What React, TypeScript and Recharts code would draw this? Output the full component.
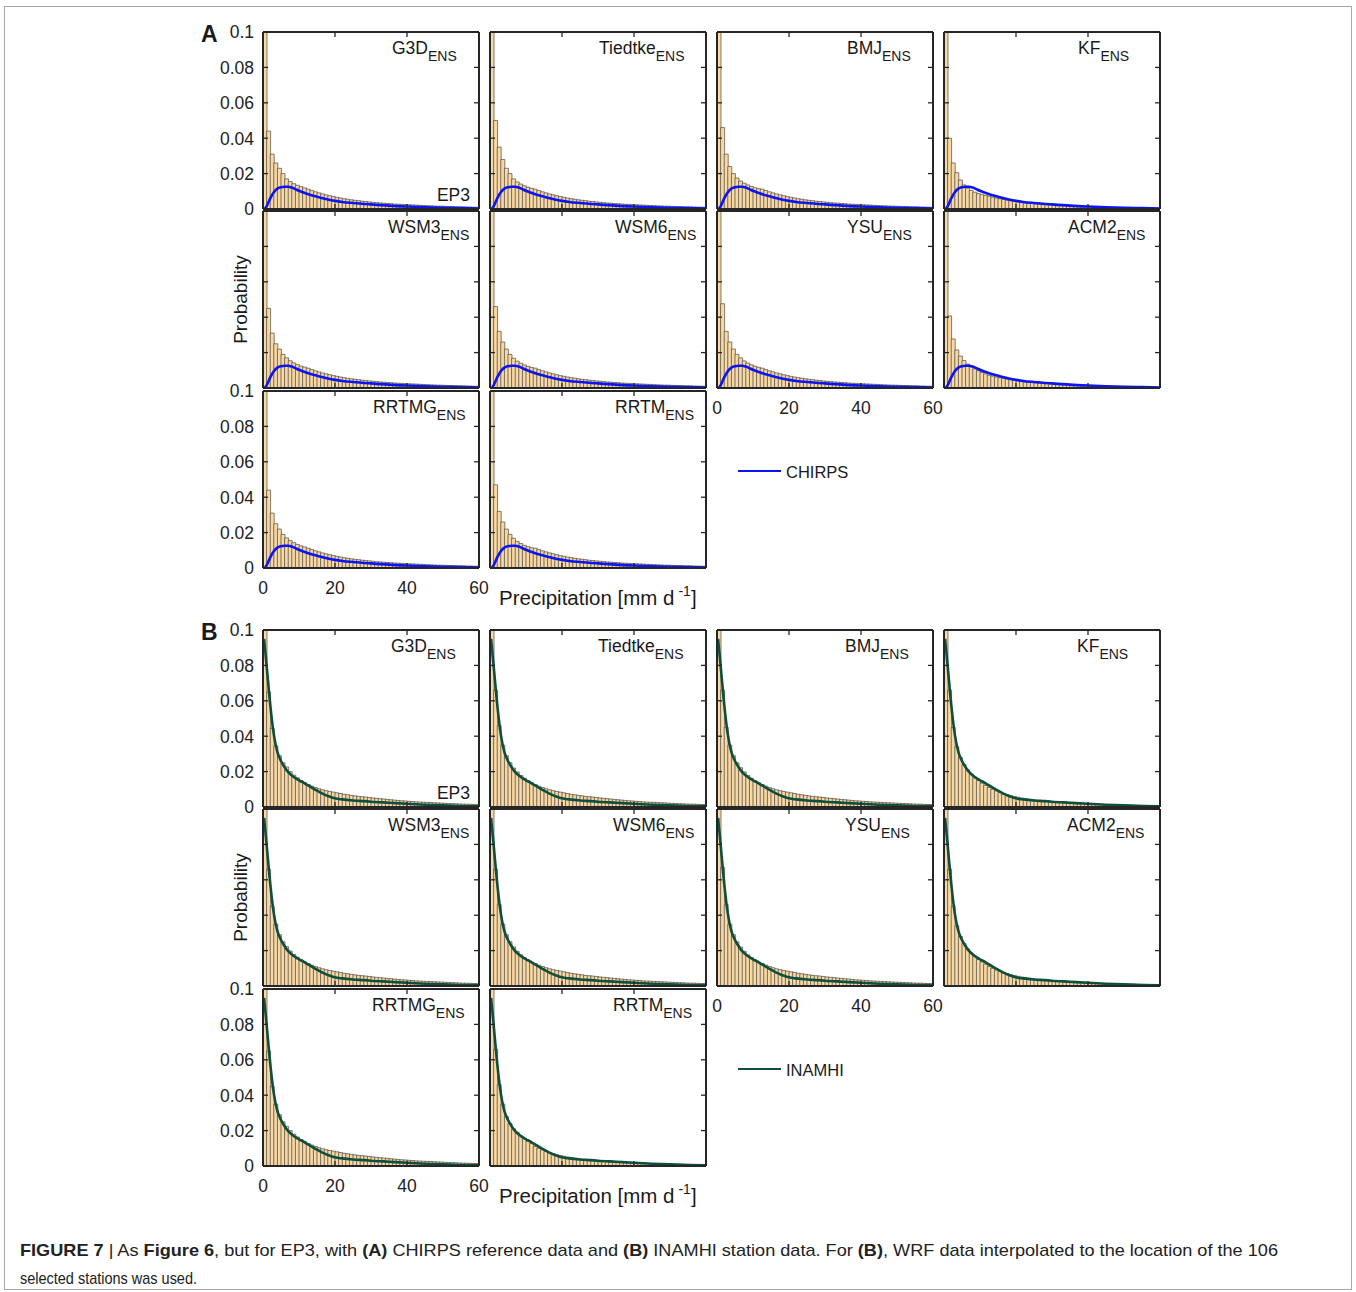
import React from 'react';
import { ComposedChart, Bar, Line, XAxis, YAxis } from 'recharts';

// ---------- data ----------
const BIN_LEFT_EDGES = [
  0, 1, 2, 3, 4, 5, 6, 7, 8, 9, 10, 11, 12, 13, 14, 15, 16, 17, 18, 19,
  20, 21, 22, 23, 24, 25, 26, 27, 28, 29, 30, 31, 32, 33, 34, 35, 36, 37, 38, 39,
  40, 41, 42, 43, 44, 45, 46, 47, 48, 49, 50, 51, 52, 53, 54, 55, 56, 57, 58, 59,
];
const X_TICKS = [0, 20, 40, 60];
const Y_TICKS = [0, 0.02, 0.04, 0.06, 0.08, 0.1];
const MODEL_NAMES = ['G3D', 'Tiedtke', 'BMJ', 'KF', 'WSM3', 'WSM6', 'YSU', 'ACM2', 'RRTMG', 'RRTM'];

// bins 12..59, shared tails
const A_TAIL = [
  0.0112, 0.0104, 0.0097, 0.0091, 0.0085, 0.0080, 0.0075, 0.0070, 0.0066, 0.0062,
  0.0058, 0.0055, 0.0052, 0.0049, 0.0047, 0.0044, 0.0042, 0.0040, 0.0038, 0.0036,
  0.0034, 0.0033, 0.0031, 0.0030, 0.0028, 0.0027, 0.0026, 0.0025, 0.0024, 0.0023,
  0.0022, 0.0021, 0.0020, 0.0019, 0.0018, 0.0017, 0.0016, 0.0016, 0.0015, 0.0014,
  0.0014, 0.0013, 0.0012, 0.0012, 0.0011, 0.0011, 0.0010, 0.0010,
];
const A_TAIL_LOW = [
  0.0072, 0.0067, 0.0062, 0.0058, 0.0054, 0.0050, 0.0047, 0.0044, 0.0041, 0.0038,
  0.0036, 0.0034, 0.0032, 0.0030, 0.0028, 0.0026, 0.0025, 0.0023, 0.0022, 0.0021,
  0.0020, 0.0019, 0.0018, 0.0017, 0.0016, 0.0015, 0.0014, 0.0013, 0.0013, 0.0012,
  0.0011, 0.0011, 0.0010, 0.0010, 0.0009, 0.0009, 0.0008, 0.0008, 0.0007, 0.0007,
  0.0007, 0.0006, 0.0006, 0.0006, 0.0005, 0.0005, 0.0005, 0.0004,
];
const B_TAIL = [
  0.0127, 0.0118, 0.0110, 0.0103, 0.0097, 0.0092, 0.0088, 0.0084, 0.0080, 0.0076,
  0.0072, 0.0069, 0.0066, 0.0063, 0.0060, 0.0058, 0.0056, 0.0054, 0.0051, 0.0049,
  0.0047, 0.0045, 0.0043, 0.0041, 0.0039, 0.0037, 0.0035, 0.0034, 0.0032, 0.0031,
  0.0029, 0.0028, 0.0027, 0.0026, 0.0025, 0.0024, 0.0023, 0.0022, 0.0021, 0.0020,
  0.0019, 0.0018, 0.0017, 0.0016, 0.0016, 0.0015, 0.0014, 0.0014,
];
const B_TAIL_LOW = [
  0.0110, 0.0100, 0.0091, 0.0083, 0.0076, 0.0070, 0.0064, 0.0059, 0.0055, 0.0051,
  0.0047, 0.0044, 0.0041, 0.0038, 0.0036, 0.0034, 0.0032, 0.0030, 0.0028, 0.0027,
  0.0025, 0.0024, 0.0023, 0.0022, 0.0021, 0.0020, 0.0019, 0.0018, 0.0017, 0.0016,
  0.0015, 0.0015, 0.0014, 0.0013, 0.0013, 0.0012, 0.0012, 0.0011, 0.0011, 0.0010,
  0.0010, 0.0009, 0.0009, 0.0009, 0.0008, 0.0008, 0.0008, 0.0007,
];

// bins 0..11 per panel (A: vs CHIRPS)
const A_HEAD_G3D = [0.26, 0.044, 0.031, 0.026, 0.023, 0.020, 0.017, 0.0155, 0.0143, 0.0134, 0.0126, 0.0119];
const A_HEAD_TIEDTKE = [0.24, 0.050, 0.035, 0.028, 0.023, 0.020, 0.017, 0.0153, 0.0141, 0.0131, 0.0123, 0.0117];
const A_HEAD_BMJ = [0.25, 0.046, 0.031, 0.024, 0.020, 0.0175, 0.0158, 0.0146, 0.0136, 0.0127, 0.0120, 0.0115];
const A_HEAD_KF = [0.28, 0.040, 0.026, 0.0205, 0.0164, 0.0136, 0.0118, 0.0105, 0.0095, 0.0087, 0.0081, 0.0076];
const A_HEAD_WSM3 = [0.26, 0.045, 0.031, 0.025, 0.022, 0.019, 0.017, 0.0154, 0.0142, 0.0132, 0.0124, 0.0118];
const A_HEAD_WSM6 = [0.25, 0.046, 0.032, 0.026, 0.022, 0.019, 0.0168, 0.0152, 0.014, 0.013, 0.0122, 0.0116];
const A_HEAD_YSU = [0.24, 0.0476, 0.032, 0.026, 0.022, 0.019, 0.017, 0.0153, 0.0141, 0.0131, 0.0123, 0.0117];
const A_HEAD_ACM2 = [0.27, 0.0407, 0.0277, 0.0215, 0.018, 0.0155, 0.0135, 0.012, 0.0108, 0.0097, 0.0088, 0.0080];
const A_HEAD_RRTMG = [0.26, 0.044, 0.031, 0.025, 0.022, 0.019, 0.017, 0.0155, 0.0143, 0.0133, 0.0125, 0.0119];
const A_HEAD_RRTM = [0.25, 0.047, 0.032, 0.026, 0.022, 0.019, 0.0168, 0.015, 0.0138, 0.0128, 0.012, 0.0114];

// bins 0..11 per panel (B: vs INAMHI)
const B_HEAD_G3D = [0.14, 0.065, 0.0445, 0.0345, 0.029, 0.025, 0.0226, 0.020, 0.018, 0.0165, 0.015, 0.0138];
const B_HEAD_TIEDTKE = [0.13, 0.066, 0.046, 0.035, 0.029, 0.025, 0.022, 0.0198, 0.0178, 0.0162, 0.0148, 0.0137];
const B_HEAD_BMJ = [0.13, 0.066, 0.045, 0.035, 0.029, 0.025, 0.0222, 0.0198, 0.0178, 0.0162, 0.0148, 0.0137];
const B_HEAD_KF = [0.12, 0.066, 0.045, 0.034, 0.028, 0.024, 0.021, 0.0185, 0.0165, 0.015, 0.0135, 0.0122];
const B_HEAD_WSM3 = [0.14, 0.066, 0.045, 0.035, 0.029, 0.025, 0.0222, 0.0198, 0.0178, 0.0162, 0.0148, 0.0137];
const B_HEAD_WSM6 = [0.13, 0.066, 0.046, 0.035, 0.029, 0.025, 0.022, 0.0196, 0.0176, 0.016, 0.0146, 0.0135];
const B_HEAD_YSU = [0.13, 0.067, 0.046, 0.035, 0.029, 0.025, 0.022, 0.0196, 0.0176, 0.016, 0.0146, 0.0135];
const B_HEAD_ACM2 = [0.12, 0.066, 0.045, 0.034, 0.028, 0.024, 0.021, 0.0186, 0.0166, 0.015, 0.0136, 0.0123];
const B_HEAD_RRTMG = [0.14, 0.065, 0.045, 0.035, 0.029, 0.025, 0.0224, 0.020, 0.018, 0.0164, 0.015, 0.0138];
const B_HEAD_RRTM = [0.13, 0.066, 0.046, 0.035, 0.028, 0.024, 0.021, 0.019, 0.017, 0.0155, 0.014, 0.0128];

const A_HISTS = [
  A_HEAD_G3D.concat(A_TAIL), A_HEAD_TIEDTKE.concat(A_TAIL), A_HEAD_BMJ.concat(A_TAIL), A_HEAD_KF.concat(A_TAIL_LOW),
  A_HEAD_WSM3.concat(A_TAIL), A_HEAD_WSM6.concat(A_TAIL), A_HEAD_YSU.concat(A_TAIL), A_HEAD_ACM2.concat(A_TAIL_LOW),
  A_HEAD_RRTMG.concat(A_TAIL), A_HEAD_RRTM.concat(A_TAIL),
];
const B_HISTS = [
  B_HEAD_G3D.concat(B_TAIL), B_HEAD_TIEDTKE.concat(B_TAIL), B_HEAD_BMJ.concat(B_TAIL), B_HEAD_KF.concat(B_TAIL_LOW),
  B_HEAD_WSM3.concat(B_TAIL), B_HEAD_WSM6.concat(B_TAIL), B_HEAD_YSU.concat(B_TAIL), B_HEAD_ACM2.concat(B_TAIL_LOW),
  B_HEAD_RRTMG.concat(B_TAIL), B_HEAD_RRTM.concat(B_TAIL_LOW),
];

const CHIRPS_X = [0.5, 1, 2, 3, 4, 5, 6, 7, 8, 9, 10, 12, 14, 16, 18, 20, 22, 25, 30, 35, 40, 45, 50, 55, 60];
const CHIRPS_Y = [0, 0.0015, 0.006, 0.0095, 0.0115, 0.0123, 0.0126, 0.0126, 0.0121, 0.0112, 0.0103, 0.0088, 0.0075, 0.0064, 0.0054, 0.0046, 0.0040, 0.0034, 0.0026, 0.0019, 0.0014, 0.0010, 0.0007, 0.0005, 0.0003];
const INAMHI_X = [0.3, 1, 2, 3, 4, 5, 6, 7, 8, 9, 10, 11, 12, 13, 14, 15, 16, 17, 18, 19, 20, 22, 25, 28, 30, 35, 40, 45, 50, 55, 60];
const INAMHI_Y = [0.095, 0.080, 0.058, 0.041, 0.031, 0.026, 0.0225, 0.0197, 0.0178, 0.0163, 0.0151, 0.0140, 0.0128, 0.0116, 0.0104, 0.0092, 0.0081, 0.0071, 0.0062, 0.0055, 0.0049, 0.0043, 0.0037, 0.0033, 0.0030, 0.0024, 0.0018, 0.0013, 0.0009, 0.0006, 0.0004];

const CHIRPS_CURVE = CHIRPS_X.map((x, i) => ({ x, y: CHIRPS_Y[i] }));
const INAMHI_CURVE = INAMHI_X.map((x, i) => ({ x, y: INAMHI_Y[i] }));

// ---------- layout / style ----------
const FONT = '"Liberation Sans", Arial, Helvetica, sans-serif';
const AXC = '#262626';
const BAR_FILL = '#F8D8A4';
const BAR_STROKE = '#4f4a44';
const BLUE = '#0a14f5';
const GREEN = '#0d4f3c';

const PW = 216;
const PH = 177;
const ML = 60;
const MR = 16;
const MT = 14;
const MB = 45;
const COL_X = [263, 490, 717, 944];
const A_ROW_Y = [32, 211, 391];
const B_ROW_Y = [630, 809, 989];
const A_LABEL_X = [392, 599, 847, 1078, 388, 615, 847, 1068, 373, 615];
const B_LABEL_X = [391, 598, 845, 1077, 388, 613, 845, 1067, 372, 613];

const fmtY = (v: number) => (v === 0 ? '0' : String(v));

const leftTick = (show: boolean) => (props: any) => {
  const { x, y, payload } = props;
  return (
    <g>
      <line x1={x} y1={y} x2={x + 5} y2={y} stroke={AXC} strokeWidth={1.3} />
      {show && (
        <text x={x - 9} y={y} dy="0.36em" textAnchor="end" fontSize={17.5} fill="#222" fontFamily={FONT}>
          {fmtY(payload.value)}
        </text>
      )}
    </g>
  );
};
const rightTick = (props: any) => {
  const { x, y } = props;
  return <line x1={x} y1={y} x2={x - 5} y2={y} stroke={AXC} strokeWidth={1.3} />;
};
const topTick = (props: any) => {
  const { x, y } = props;
  return <line x1={x} y1={y} x2={x} y2={y + 5} stroke={AXC} strokeWidth={1.3} />;
};
const bottomTick = (show: boolean) => (props: any) => {
  const { x, y, payload } = props;
  return (
    <g>
      <line x1={x} y1={y} x2={x} y2={y - 5} stroke={AXC} strokeWidth={1.3} />
      {show && (
        <text x={x} y={y + 26} textAnchor="middle" fontSize={17.5} fill="#222" fontFamily={FONT}>
          {payload.value}
        </text>
      )}
    </g>
  );
};

type PanelProps = {
  left: number;
  top: number;
  hist: number[];
  curve: { x: number; y: number }[];
  color: string;
  xLabels: boolean;
  yLabels: boolean;
};

function Panel({ left, top, hist, curve, color, xLabels, yLabels }: PanelProps) {
  const rows = BIN_LEFT_EDGES.map((b, i) => ({ bin: b, p: hist[i] }));
  const axisLine = { stroke: AXC, strokeWidth: 2 };
  return (
    <div style={{ position: 'absolute', left: left - ML, top: top - MT }}>
      <ComposedChart
        width={PW + ML + MR}
        height={PH + MT + MB}
        data={rows}
        margin={{ top: MT - 1, right: MR - 1, bottom: 0, left: 0 }}
        barCategoryGap={0}
        barGap={0}
      >
        <XAxis xAxisId="cat" dataKey="bin" type="category" hide height={0} />
        <Bar
          xAxisId="cat"
          yAxisId="left"
          dataKey="p"
          fill={BAR_FILL}
          stroke={BAR_STROKE}
          strokeWidth={0.7}
          isAnimationActive={false}
        />
        <Line
          xAxisId="top"
          yAxisId="right"
          data={curve}
          dataKey="y"
          stroke="none"
          dot={false}
          activeDot={false}
          isAnimationActive={false}
        />
        <Line
          xAxisId="num"
          yAxisId="left"
          data={curve}
          dataKey="y"
          type="monotone"
          stroke={color}
          strokeWidth={2.6}
          dot={false}
          activeDot={false}
          isAnimationActive={false}
        />
        <XAxis
          xAxisId="num"
          dataKey="x"
          type="number"
          domain={[0, 60]}
          ticks={X_TICKS}
          interval={0}
          height={MB}
          tickSize={0}
          tickMargin={0}
          tickLine={false}
          axisLine={axisLine}
          tick={bottomTick(xLabels)}
          allowDataOverflow
        />
        <XAxis
          xAxisId="top"
          orientation="top"
          dataKey="x"
          type="number"
          domain={[0, 60]}
          ticks={X_TICKS}
          interval={0}
          height={1}
          tickSize={0}
          tickMargin={0}
          tickLine={false}
          axisLine={axisLine}
          tick={topTick}
          allowDataOverflow
        />
        <YAxis
          yAxisId="left"
          type="number"
          domain={[0, 0.1]}
          ticks={Y_TICKS}
          interval={0}
          width={ML}
          tickSize={0}
          tickMargin={0}
          tickLine={false}
          axisLine={axisLine}
          tick={leftTick(yLabels)}
          allowDataOverflow
        />
        <YAxis
          yAxisId="right"
          orientation="right"
          type="number"
          domain={[0, 0.1]}
          ticks={Y_TICKS}
          interval={0}
          width={1}
          tickSize={0}
          tickMargin={0}
          tickLine={false}
          axisLine={axisLine}
          tick={rightTick}
          allowDataOverflow
        />
      </ComposedChart>
    </div>
  );
}

function Section({ rowsY, hists, curve, color }: any) {
  return (
    <>
      {hists.map((h: number[], i: number) => {
        const row = Math.floor(i / 4);
        const col = i % 4;
        return (
          <Panel
            key={i}
            left={COL_X[col]}
            top={rowsY[row]}
            hist={h}
            curve={curve}
            color={color}
            yLabels={col === 0 && row !== 1}
            xLabels={(row === 2 && col === 0) || (row === 1 && col === 2)}
          />
        );
      })}
    </>
  );
}

function SectionText({ rowsY, labelX, letter, legendName, color, legendY }: any) {
  return (
    <g fontFamily={FONT} fill="#1a1a1a">
      <text x={201} y={rowsY[0] + 10} fontSize={23} fontWeight="bold">{letter}</text>
      {MODEL_NAMES.map((n, i) => {
        const row = Math.floor(i / 4);
        return (
          <text key={n} x={labelX[i]} y={rowsY[row] + 22} fontSize={17.5}>
            {n}
            <tspan dy={7} fontSize={14}>ENS</tspan>
          </text>
        );
      })}
      <text x={COL_X[0] + PW - 9} y={rowsY[0] + PH - 8} fontSize={17.5} textAnchor="end">EP3</text>
      <text transform={`translate(247,${rowsY[1] + PH / 2}) rotate(-90)`} fontSize={19} textAnchor="middle">
        Probability
      </text>
      <text x={499} y={rowsY[2] + PH + 37} fontSize={20.5}>
        Precipitation [mm d
        <tspan dx={4} dy={-9} fontSize={14}>-1</tspan>
        <tspan dy={9} fontSize={20.5}>]</tspan>
      </text>
      <line x1={738} y1={legendY} x2={781} y2={legendY} stroke={color} strokeWidth={2.2} />
      <text x={786} y={legendY + 6.5} fontSize={16.5}>{legendName}</text>
    </g>
  );
}

export default function App() {
  return (
    <div style={{ position: 'absolute', left: 0, top: 0, width: 1356, height: 1292, background: '#fff', overflow: 'hidden' }}>
      <Section rowsY={A_ROW_Y} hists={A_HISTS} curve={CHIRPS_CURVE} color={BLUE} />
      <Section rowsY={B_ROW_Y} hists={B_HISTS} curve={INAMHI_CURVE} color={GREEN} />
      <svg width={1356} height={1292} style={{ position: 'absolute', left: 0, top: 0, pointerEvents: 'none' }}>
        <rect x={4.5} y={6.5} width={1347} height={1283} fill="none" stroke="#a8a8a8" strokeWidth={1} />
        <SectionText rowsY={A_ROW_Y} labelX={A_LABEL_X} letter="A" legendName="CHIRPS" color={BLUE} legendY={471} />
        <SectionText rowsY={B_ROW_Y} labelX={B_LABEL_X} letter="B" legendName="INAMHI" color={GREEN} legendY={1069} />
        <g fontFamily='"Liberation Sans Narrow", "Liberation Sans", Arial, sans-serif' fontSize={17} fill="#222">
          <text x={20} y={1256} textLength={1258} lengthAdjust="spacingAndGlyphs">
            <tspan fontWeight="bold">FIGURE 7</tspan>
            <tspan> | As </tspan>
            <tspan fontWeight="bold">Figure 6</tspan>
            <tspan>, but for EP3, with </tspan>
            <tspan fontWeight="bold">(A)</tspan>
            <tspan> CHIRPS reference data and </tspan>
            <tspan fontWeight="bold">(B)</tspan>
            <tspan> INAMHI station data. For </tspan>
            <tspan fontWeight="bold">(B)</tspan>
            <tspan>, WRF data interpolated to the location of the 106</tspan>
          </text>
          <text x={20} y={1284} textLength={177} lengthAdjust="spacingAndGlyphs">selected stations was used.</text>
        </g>
      </svg>
    </div>
  );
}
